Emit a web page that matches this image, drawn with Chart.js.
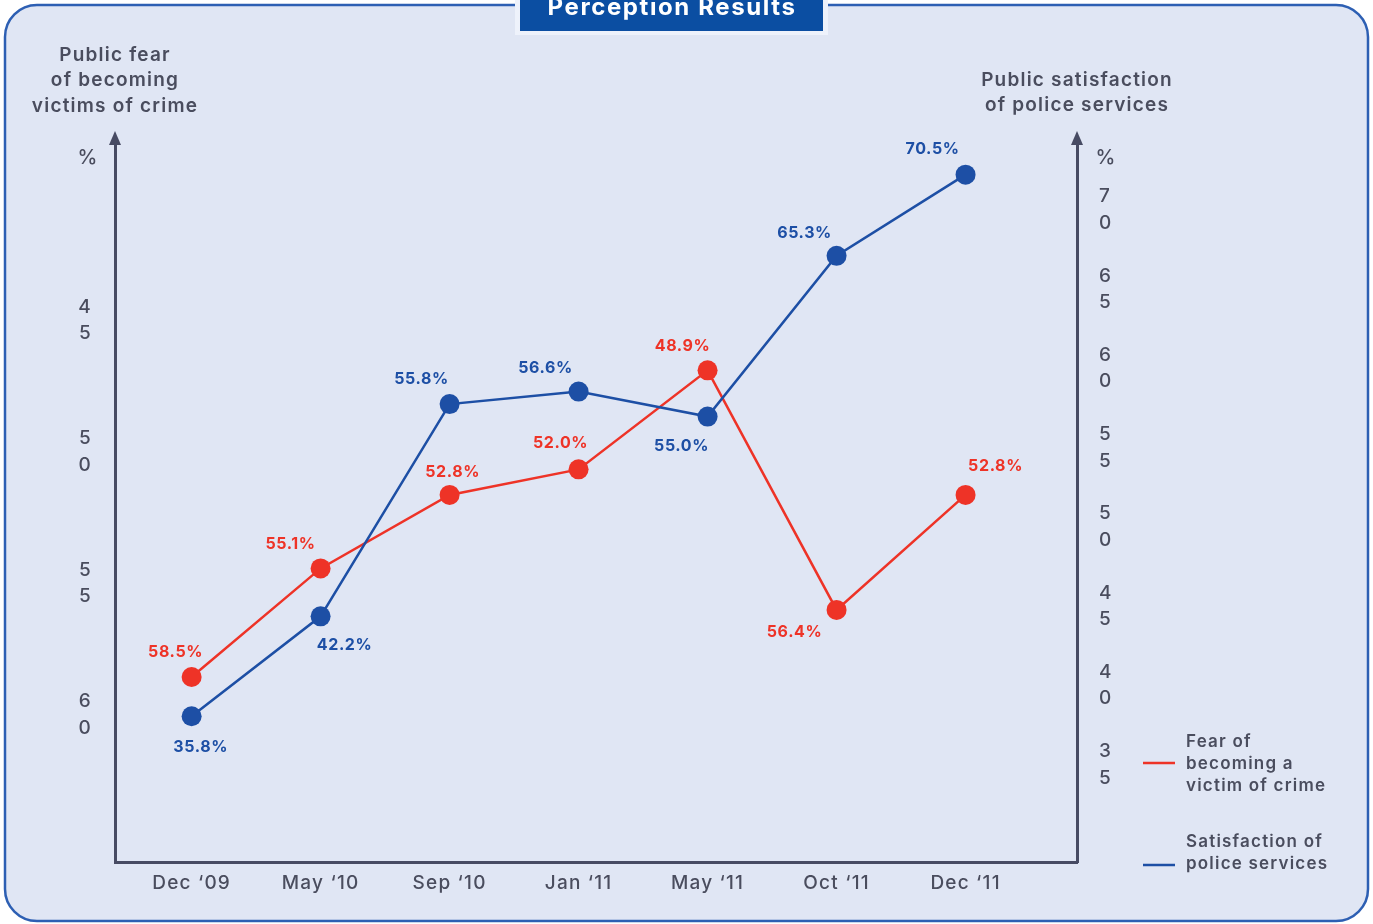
<!DOCTYPE html>
<html>
<head>
<meta charset="utf-8">
<script src="https://cdn.jsdelivr.net/npm/chart.js@4.4.1/dist/chart.umd.min.js"></script>
<style>
  html, body { margin: 0; padding: 0; background: #ffffff; }
  #wrap { position: relative; width: 1373px; height: 924px; }
</style>
</head>
<body>
<div id="wrap"><canvas id="perceptionChart"></canvas></div>
<script>
// Perception results data
const periods = ["Dec ‘09", "May ‘10", "Sep ‘10", "Jan ‘11", "May ‘11", "Oct ‘11", "Dec ‘11"];
const fearValues = [58.5, 55.1, 52.8, 52.0, 48.9, 56.4, 52.8];
const satisfactionValues = [35.8, 42.2, 55.8, 56.6, 55.0, 65.3, 70.5];
const fearTicks = [45, 50, 55, 60];
const satisfactionTicks = [35, 40, 45, 50, 55, 60, 65, 70];

// label offsets from each point (dx, dy)
const fearLabelOffsets = [[-16, -25], [-30, -24], [3, -23], [-18, -26], [-25, -24], [-42, 22], [30, -29]];
const satisfactionLabelOffsets = [[9, 31], [24, 29], [-28, -25], [-33, -23], [-26, 30], [-32, -23], [-33, -25]];

const RED = "#ee3327";
const BLUE = "#1d4fa5";
const AXIS = "#474b63";
const TEXT = "#4a4d5e";
const BG = "#e0e6f4";
const FONT = "Inter, 'Open Sans', sans-serif";

function toPoints(values) {
  return values.map((v, i) => ({ x: i, y: v }));
}

function roundRectPath(ctx, x, y, w, h, r) {
  ctx.beginPath();
  ctx.moveTo(x + r, y);
  ctx.arcTo(x + w, y, x + w, y + h, r);
  ctx.arcTo(x + w, y + h, x, y + h, r);
  ctx.arcTo(x, y + h, x, y, r);
  ctx.arcTo(x, y, x + w, y, r);
  ctx.closePath();
}

// the printed typeface is wide, so space the letters out a little
const spacing = {
  id: "spacing",
  beforeUpdate(chart) { chart.ctx.letterSpacing = "1.2px"; },
  beforeDraw(chart) { chart.ctx.letterSpacing = "1.2px"; }
};

const frame = {
  id: "frame",
  beforeDraw(chart) {
    const ctx = chart.ctx;
    ctx.save();
    ctx.fillStyle = "#ffffff";
    ctx.fillRect(0, 0, chart.width, chart.height);
    roundRectPath(ctx, 5, 5, 1363, 916, 32);
    ctx.fillStyle = BG;
    ctx.fill();
    ctx.strokeStyle = "#2d5fb3";
    ctx.lineWidth = 2.5;
    ctx.stroke();
    ctx.restore();
  },
  afterDraw(chart) {
    const ctx = chart.ctx;
    const area = chart.chartArea;
    ctx.save();

    // arrow heads on both vertical axes
    ctx.fillStyle = AXIS;
    [area.left, area.right].forEach((x) => {
      ctx.beginPath();
      ctx.moveTo(x, 131);
      ctx.lineTo(x - 6, 145);
      ctx.lineTo(x + 6, 145);
      ctx.closePath();
      ctx.fill();
    });

    // axis titles
    ctx.fillStyle = TEXT;
    ctx.textAlign = "center";
    ctx.textBaseline = "middle";
    ctx.font = "600 19px " + FONT;
    ["Public fear", "of becoming", "victims of crime"].forEach((t, i) => {
      ctx.fillText(t, 115, 55 + i * 25.5);
    });
    ["Public satisfaction", "of police services"].forEach((t, i) => {
      ctx.fillText(t, 1077, 80 + i * 25.5);
    });
    ctx.font = "500 20px " + FONT;
    ctx.fillText("%", 88, 158);
    ctx.fillText("%", 1106, 158);

    // legend
    const legend = [
      { color: RED, y: 763, lines: ["Fear of", "becoming a", "victim of crime"], top: 742 },
      { color: BLUE, y: 865, lines: ["Satisfaction of", "police services"], top: 842 }
    ];
    ctx.textAlign = "left";
    ctx.font = "600 17px " + FONT;
    legend.forEach((item) => {
      ctx.strokeStyle = item.color;
      ctx.lineWidth = 2.5;
      ctx.beginPath();
      ctx.moveTo(1143, item.y);
      ctx.lineTo(1175, item.y);
      ctx.stroke();
      ctx.fillStyle = TEXT;
      item.lines.forEach((t, i) => ctx.fillText(t, 1186, item.top + i * 22));
    });

    // title box
    ctx.fillStyle = "#eef2fb";
    ctx.fillRect(515, 0, 313, 35);
    ctx.fillStyle = "#0b4ea2";
    ctx.fillRect(520, 0, 303, 31);
    ctx.fillStyle = "#ffffff";
    ctx.textAlign = "center";
    ctx.font = "700 24px " + FONT;
    ctx.letterSpacing = "1.6px";
    ctx.fillText("Perception Results", 672, 8);
    ctx.restore();
  }
};

const valueLabels = {
  id: "valueLabels",
  afterDatasetsDraw(chart) {
    const ctx = chart.ctx;
    ctx.save();
    ctx.font = "700 16px " + FONT;
    ctx.letterSpacing = "0.6px";
    ctx.textAlign = "center";
    ctx.textBaseline = "middle";
    chart.data.datasets.forEach((ds, di) => {
      const meta = chart.getDatasetMeta(di);
      meta.data.forEach((pt, i) => {
        const off = ds.labelOffsets[i];
        ctx.fillStyle = ds.borderColor;
        ctx.fillText(ds.data[i].y.toFixed(1) + "%", pt.x + off[0], pt.y + off[1]);
      });
    });
    ctx.restore();
  }
};

const tickFont = { family: FONT, size: 19, weight: "500", lineHeight: 1.4 };

const ctx = document.getElementById("perceptionChart").getContext("2d");
const perceptionChart = new Chart(ctx, {
  type: "line",
  data: {
    datasets: [
      {
        label: "Fear of becoming a victim of crime",
        data: toPoints(fearValues),
        yAxisID: "yFear",
        borderColor: RED,
        backgroundColor: RED,
        borderWidth: 2.5,
        pointRadius: 10,
        pointHoverRadius: 10,
        pointBorderWidth: 0,
        order: 1,
        labelOffsets: fearLabelOffsets
      },
      {
        label: "Satisfaction of police services",
        data: toPoints(satisfactionValues),
        yAxisID: "ySat",
        borderColor: BLUE,
        backgroundColor: BLUE,
        borderWidth: 2.5,
        pointRadius: 10,
        pointHoverRadius: 10,
        pointBorderWidth: 0,
        order: 0,
        labelOffsets: satisfactionLabelOffsets
      }
    ]
  },
  options: {
    responsive: true,
    maintainAspectRatio: false,
    animation: false,
    layout: { padding: { top: 140, left: 0, right: 0, bottom: 0 } },
    plugins: {
      legend: { display: false },
      tooltip: { enabled: false }
    },
    scales: {
      x: {
        type: "linear",
        position: "bottom",
        min: -0.594,
        max: 6.864,
        grid: { display: false },
        border: { display: true, color: AXIS, width: 3 },
        afterBuildTicks: (s) => { s.ticks = periods.map((_, i) => ({ value: i })); },
        afterFit: (s) => { s.height = 62; },
        ticks: {
          autoSkip: false,
          maxRotation: 0,
          padding: 2,
          color: TEXT,
          font: { family: FONT, size: 19, weight: "500" },
          callback: (v) => periods[v]
        }
      },
      // visible left scale (ticks as printed)
      yFearTicks: {
        type: "linear",
        position: "left",
        reverse: true,
        min: 38.16,
        max: 65.58,
        grid: { display: false },
        border: { display: true, color: AXIS, width: 3 },
        afterBuildTicks: (s) => { s.ticks = fearTicks.map((v) => ({ value: v })); },
        afterFit: (s) => { s.width = 115; },
        ticks: {
          padding: 15,
          color: TEXT,
          font: tickFont,
          callback: (v) => String(v).split("")
        }
      },
      yFear: {
        type: "linear",
        display: false,
        reverse: true,
        min: 41.69,
        max: 64.29
      },
      // visible right scale (ticks as printed)
      ySatTicks: {
        type: "linear",
        position: "right",
        min: 28.85,
        max: 74.42,
        grid: { display: false },
        border: { display: true, color: AXIS, width: 3 },
        afterBuildTicks: (s) => { s.ticks = satisfactionTicks.map((v) => ({ value: v })); },
        afterFit: (s) => { s.width = 296; },
        ticks: {
          padding: 14,
          color: TEXT,
          font: tickFont,
          callback: (v) => String(v).split("")
        }
      },
      ySat: {
        type: "linear",
        display: false,
        min: 26.46,
        max: 72.72
      }
    }
  },
  plugins: [spacing, frame, valueLabels]
});
</script>
</body>
</html>
